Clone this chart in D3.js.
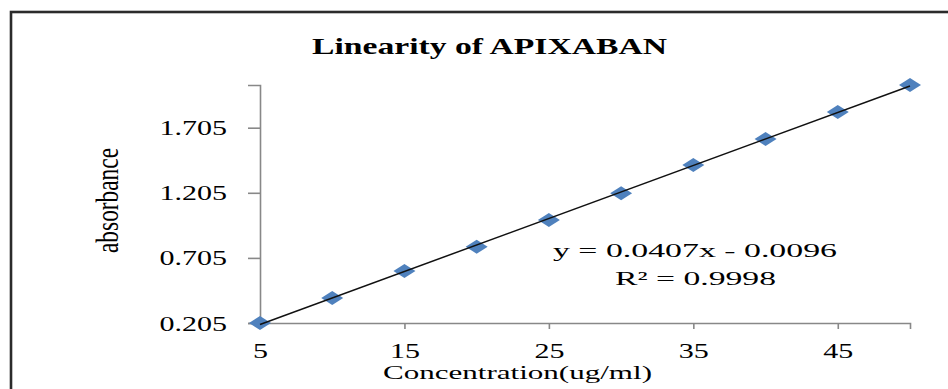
<!DOCTYPE html>
<html>
<head>
<meta charset="utf-8">
<script src="https://d3js.org/d3.v7.min.js"></script>
<style>
    body { margin: 0; background: #fff; }
    svg { display: block; }
    .serif { font-family: "Liberation Serif", "Times New Roman", serif; fill: #000; }
</style>
</head>
<body>
<div id="chart"></div>
<script>
// data
var concentration = [5, 10, 15, 20, 25, 30, 35, 40, 45, 50];
var absorbance = [0.205, 0.397, 0.604, 0.791, 0.996, 1.201, 1.419, 1.618, 1.826, 2.033];
var xTickValues = [5, 15, 25, 35, 45];
var yTickValues = [0.205, 0.705, 1.205, 1.705];
var slope = 0.0407;
var intercept = -0.0096;
var rSquared = 0.9998;

var width = 948, height = 389;
// the picture is stretched sideways, so text and markers get a horizontal scale
var stretch = 1.5;

var svg = d3.select("#chart").append("svg")
    .attr("width", width)
    .attr("height", height);

//outer frame (right and bottom edges run off the picture)
svg.append("rect")
    .attr("x", 11).attr("y", 12)
    .attr("width", 960).attr("height", 400)
    .attr("fill", "none")
    .attr("stroke", "#2b2b2b")
    .attr("stroke-width", 2.6);

var x = d3.scaleLinear().domain([5, 50]).range([260, 910]);
var y = d3.scaleLinear().domain([0.205, 2.033]).range([323, 85]);

// title
svg.append("text")
    .attr("class", "serif")
    .attr("x", 489.5).attr("y", 54)
    .attr("text-anchor", "middle")
    .attr("font-size", 24)
    .attr("font-weight", "bold")
    .attr("textLength", 355)
    .attr("lengthAdjust", "spacingAndGlyphs")
    .text("Linearity of APIXABAN");

// x axis
var xAxis = svg.append("g")
    .attr("transform", "translate(0," + y(0.205) + ")")
    .call(d3.axisBottom(x).tickValues(xTickValues).tickSizeOuter(0).tickSize(6));
xAxis.select(".domain").attr("stroke", "#888").attr("stroke-width", 1.6);
xAxis.selectAll(".tick line").attr("stroke", "#888").attr("stroke-width", 1.6);
xAxis.selectAll(".tick text")
    .attr("class", "serif")
    .attr("font-size", 20)
    .attr("fill", "#000")
    .attr("dy", null)
    .attr("y", null)
    .attr("transform", "translate(0,35) scale(" + stretch + ",1)");

// y axis
var yAxis = svg.append("g")
    .attr("transform", "translate(" + x(5) + ",0)")
    .call(d3.axisLeft(y).tickValues(yTickValues).tickSizeOuter(0).tickSize(12)
        .tickFormat(d3.format(".3f")));
yAxis.select(".domain").attr("stroke", "#888").attr("stroke-width", 1.6);
yAxis.selectAll(".tick line").attr("stroke", "#888").attr("stroke-width", 1.6);
yAxis.selectAll(".tick text")
    .attr("class", "serif")
    .attr("font-size", 20)
    .attr("fill", "#000")
    .attr("x", null)
    .attr("dy", null)
    .attr("transform", "translate(-33,7) scale(" + stretch + ",1)");

// axis titles
svg.append("text")
    .attr("class", "serif")
    .attr("x", 517.5).attr("y", 379)
    .attr("text-anchor", "middle")
    .attr("font-size", 19)
    .attr("textLength", 269)
    .attr("lengthAdjust", "spacingAndGlyphs")
    .text("Concentration(ug/ml)");

svg.append("text")
    .attr("class", "serif")
    .attr("transform", "translate(118,200.5) scale(1.45,1) rotate(-90)")
    .attr("text-anchor", "middle")
    .attr("font-size", 22)
    .attr("textLength", 105)
    .attr("lengthAdjust", "spacingAndGlyphs")
    .text("absorbance");

// points
var points = concentration.map(function(c, i){
    return {c: c, a: absorbance[i]};
});
var diamond = d3.symbol().type(d3.symbolSquare).size(98);
svg.selectAll(".pt")
    .data(points)
    .enter()
    .append("path")
    .attr("class", "pt")
    .attr("d", diamond)
    .attr("fill", "#4f81bd")
    .attr("transform", function(d){
        return "translate(" + x(d.c) + "," + y(d.a) + ") scale(1.57,1) rotate(45)";
    });

// linear trendline from the fitted equation
var xMin = d3.min(concentration), xMax = d3.max(concentration);
svg.append("line")
    .attr("x1", x(xMin)).attr("y1", y(slope * xMin + intercept))
    .attr("x2", x(xMax)).attr("y2", y(slope * xMax + intercept))
    .attr("stroke", "#111")
    .attr("stroke-width", 1.5);

// equation label
svg.append("text")
    .attr("class", "serif")
    .attr("x", 695).attr("y", 257)
    .attr("text-anchor", "middle")
    .attr("font-size", 19.5)
    .attr("textLength", 284)
    .attr("lengthAdjust", "spacingAndGlyphs")
    .text("y = " + slope.toFixed(4) + "x - " + Math.abs(intercept).toFixed(4));
svg.append("text")
    .attr("class", "serif")
    .attr("x", 695.5).attr("y", 285)
    .attr("text-anchor", "middle")
    .attr("font-size", 19.5)
    .attr("textLength", 161)
    .attr("lengthAdjust", "spacingAndGlyphs")
    .text("R\u00b2 = " + rSquared.toFixed(4));
</script>
</body>
</html>
